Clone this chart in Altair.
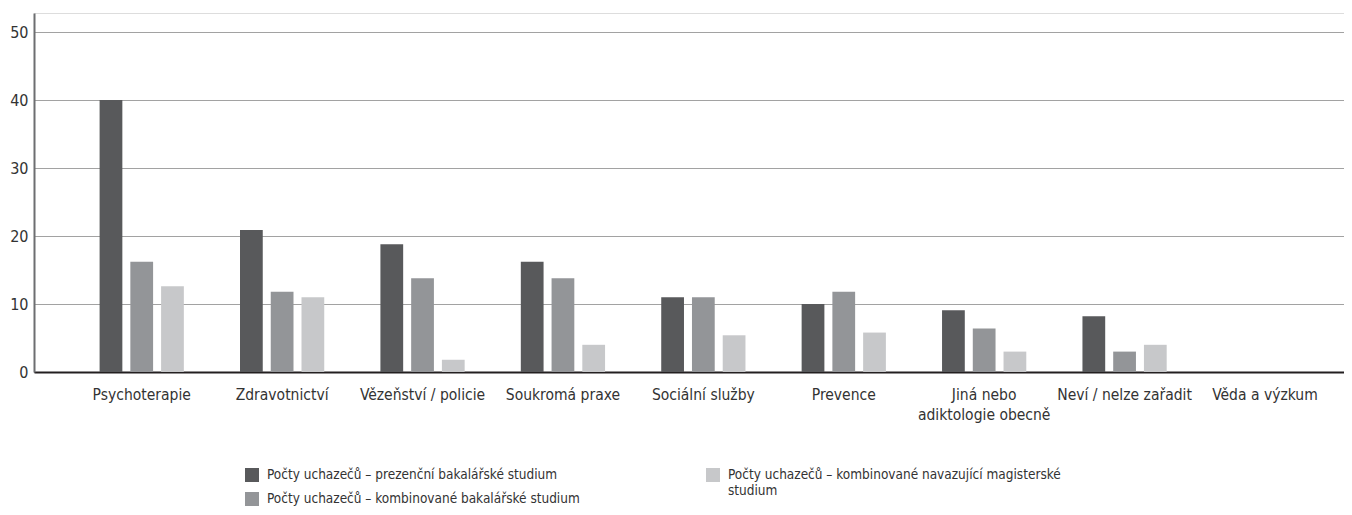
import altair as alt
import pandas as pd

categories = [
    "Psychoterapie",
    "Zdravotnictví",
    "Vězeňství / policie",
    "Soukromá praxe",
    "Sociální služby",
    "Prevence",
    "Jiná nebo adiktologie obecně",
    "Neví / nelze zařadit",
    "Věda a výzkum",
]
series = [
    "Počty uchazečů – prezenční bakalářské studium",
    "Počty uchazečů – kombinované bakalářské studium",
    "Počty uchazečů – kombinované navazující magisterské studium",
]
prezencni_bc = [40.0, 20.9, 18.8, 16.2, 11.0, 10.0, 9.1, 8.2, 0]
kombinovane_bc = [16.2, 11.8, 13.8, 13.8, 11.0, 11.8, 6.4, 3.0, 0]
kombinovane_mgr = [12.6, 11.0, 1.8, 4.0, 5.4, 5.8, 3.0, 4.0, 0]
colors = ["#58595b", "#939598", "#c7c8ca"]
y_ticks = [0, 10, 20, 30, 40, 50]

rows = []
for vals, s in zip([prezencni_bc, kombinovane_bc, kombinovane_mgr], series):
    for c, v in zip(categories, vals):
        rows.append({"kategorie": c, "serie": s, "hodnota": v})
df = pd.DataFrame(rows)

FONT = "Liberation Sans Narrow, DejaVu Sans Condensed, sans-serif"

legend_expr = (
    "datum.label == '" + series[2] + "' ? "
    "['Počty uchazečů – kombinované navazující magisterské', 'studium'] : datum.label"
)
xlabel_expr = (
    "datum.label == 'Jiná nebo adiktologie obecně' ? "
    "['Jiná nebo', 'adiktologie obecně'] : datum.label"
)

x_enc = alt.X(
    "kategorie:N",
    sort=categories,
    scale=alt.Scale(paddingInner=0.4, paddingOuter=0.365, align=0.64),
    axis=alt.Axis(
        title=None,
        labelAngle=0,
        ticks=False,
        labelPadding=15,
        labelFontSize=15.5,
        labelColor="#333333",
        labelFont=FONT,
        labelLimit=300,
        labelLineHeight=20,
        labelBaseline="top",
        labelExpr=xlabel_expr,
        domainColor="#231f20",
        domainWidth=1.8,
        grid=False,
    ),
)
xoff_enc = alt.XOffset(
    "serie:N",
    sort=series,
    scale=alt.Scale(domain=series, paddingInner=0.26, paddingOuter=0),
)
y_enc = alt.Y(
    "hodnota:Q",
    scale=alt.Scale(domain=[0, 52.8], nice=False),
    axis=alt.Axis(
        title=None,
        values=y_ticks,
        ticks=False,
        labelPadding=6,
        labelFontSize=16,
        labelColor="#333333",
        labelFont=FONT,
        domainColor="#6d6e71",
        domainWidth=2,
        grid=True,
        gridColor="#444444",
        gridDash=[1, 1],
        gridWidth=1,
    ),
)


def legend(x, y):
    return alt.Legend(
        title=None,
        orient="none",
        legendX=x,
        legendY=y,
        rowPadding=10,
        symbolType="square",
        symbolSize=196,
        symbolStrokeWidth=0,
        symbolOpacity=1,
        labelFontSize=13.5,
        labelFont=FONT,
        labelColor="#333333",
        labelLimit=400,
        labelOffset=8,
        labelExpr=legend_expr,
    )


base = alt.Chart(df).mark_bar()

bars_bc = base.transform_filter(
    alt.FieldOneOfPredicate(field="serie", oneOf=series[:2])
).encode(
    x=x_enc,
    xOffset=xoff_enc,
    y=y_enc,
    color=alt.Color(
        "serie:N",
        scale=alt.Scale(domain=series[:2], range=colors[:2]),
        legend=legend(211, 455),
    ),
)

bars_mgr = base.transform_filter(
    alt.FieldOneOfPredicate(field="serie", oneOf=series[2:])
).encode(
    x=x_enc,
    xOffset=xoff_enc,
    y=y_enc,
    color=alt.Color(
        "serie:N",
        scale=alt.Scale(domain=series[2:], range=colors[2:]),
        legend=legend(672, 455),
    ),
)

chart = (
    alt.layer(bars_bc, bars_mgr)
    .resolve_scale(color="independent")
    .properties(
        width=1310,
        height=359,
        autosize=alt.AutoSizeParams(type="none"),
        padding={"left": 26, "top": 5, "right": 0, "bottom": 143},
    )
    .configure_view(stroke=None)
    .configure(background="white")
)

chart.save("out.html", embed_options={"renderer": "svg", "actions": False})
